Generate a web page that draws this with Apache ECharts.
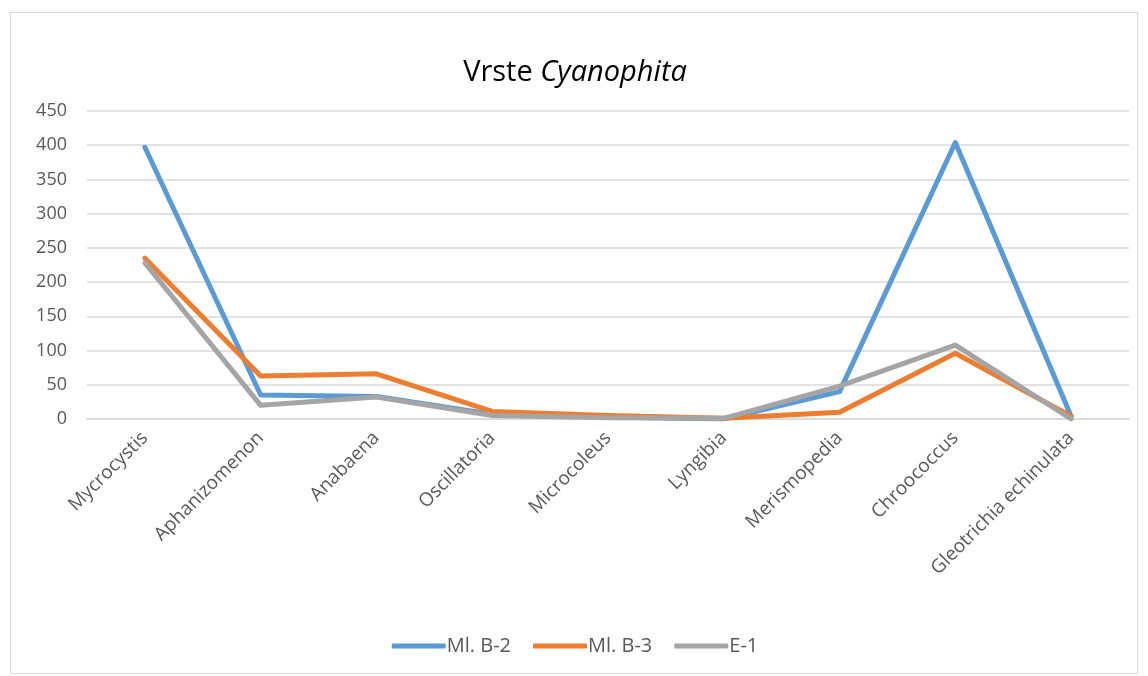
<!DOCTYPE html>
<html>
<head>
<meta charset="utf-8">
<script src="https://cdn.jsdelivr.net/npm/echarts@6/dist/echarts.min.js"></script>
<style>
  html, body { margin: 0; padding: 0; background: #fff; }
  #wrap {
    position: absolute;
    left: 10px; top: 12px;
    width: 1128px; height: 662px;
    border: 1px solid #d9d9d9;
    box-sizing: border-box;
  }
  #chart { position: absolute; left: -10px; top: -12px; width: 1148px; height: 676px; }
</style>
</head>
<body>
<div id="wrap"><div id="chart"></div></div>
<script>
const categories = ['Mycrocystis', 'Aphanizomenon', 'Anabaena', 'Oscillatoria', 'Microcoleus', 'Lyngibia', 'Merismopedia', 'Chroococcus', 'Gleotrichia echinulata']
const mlB2 = [397, 35, 33, 7, 3, 0, 40, 404, 4]
const mlB3 = [235, 63, 66, 11, 5, 1, 10, 96, 4]
const e1 = [228, 20, 32, 5, 2, 1, 48, 108, 0]

const fontFamily = '"Open Sans", "Liberation Sans", sans-serif'
const colors = ['#5b9bd5', '#ed7d31', '#a5a5a5']

const makeSeries = (name, data, color) => ({
  name,
  type: 'line',
  data,
  showSymbol: false,
  symbol: 'none',
  lineStyle: { width: 5, color, cap: 'round', join: 'round' },
  itemStyle: { color },
  animation: false
})

const myChart = echarts.init(document.getElementById('chart'))
const option = {
  color: colors,
  title: {
    text: '{n|Vrste }{i|Cyanophita}',
    left: 'center',
    top: 52,
    textStyle: {
      fontWeight: 'normal',
      rich: {
        n: { fontSize: 29, fontFamily, color: '#000', fontWeight: 'normal' },
        i: { fontSize: 29, fontFamily, color: '#000', fontStyle: 'italic', fontWeight: 'normal' }
      }
    }
  },
  legend: {
    bottom: 16,
    left: 'center',
    itemWidth: 54,
    itemHeight: 5,
    itemGap: 22,
    icon: 'roundRect',
    textStyle: { fontSize: 20, fontFamily, color: '#595959', padding: [0, 0, 0, -4] },
    data: ['Ml. B-2', 'Ml. B-3', 'E-1']
  },
  grid: {
    left: 86,
    right: 20,
    top: 110,
    bottom: 258
  },
  xAxis: {
    type: 'category',
    data: categories,
    boundaryGap: true,
    axisLine: { show: true, lineStyle: { color: '#d9d9d9', width: 1.5 } },
    axisTick: { show: false },
    axisLabel: {
      rotate: 45,
      interval: 0,
      margin: 16,
      fontSize: 19,
      fontFamily,
      color: '#595959'
    }
  },
  yAxis: {
    type: 'value',
    min: 0,
    max: 450,
    interval: 50,
    axisLine: { show: false },
    axisTick: { show: false },
    splitLine: { lineStyle: { color: '#d9d9d9', width: 1.5 } },
    axisLabel: {
      margin: 20,
      fontSize: 18,
      fontFamily,
      color: '#595959'
    }
  },
  series: [
    makeSeries('Ml. B-2', mlB2, colors[0]),
    makeSeries('Ml. B-3', mlB3, colors[1]),
    makeSeries('E-1', e1, colors[2])
  ]
}
myChart.setOption(option)
</script>
</body>
</html>
